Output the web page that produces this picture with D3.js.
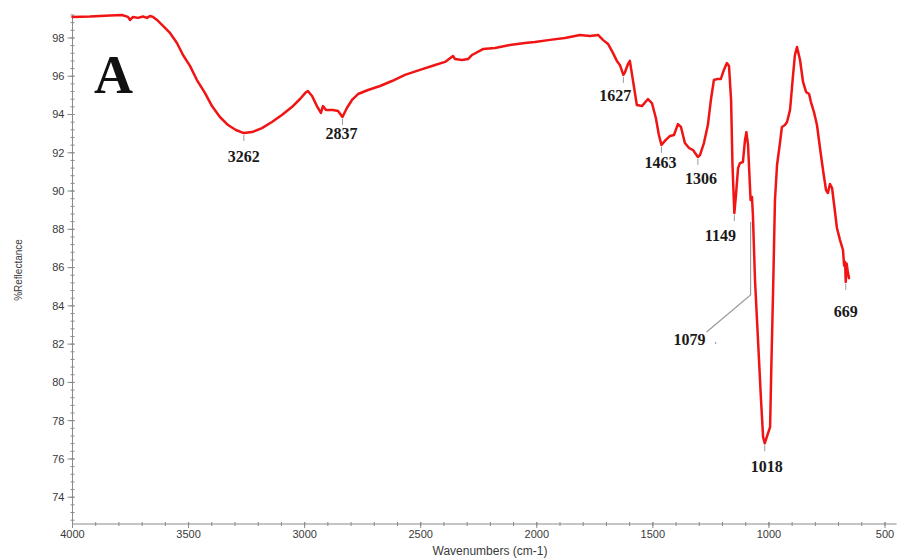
<!DOCTYPE html>
<html>
<head>
<meta charset="utf-8">
<script src="https://cdn.jsdelivr.net/npm/d3@7"></script>
<style>
  html, body { margin: 0; padding: 0; background: #ffffff; }
  svg { display: block; }
</style>
</head>
<body>
<svg id="chart" width="901" height="558"></svg>
<script>
// FTIR spectrum, wavenumber (cm-1) vs. %Reflectance
const wavenumbers = [
  4000, 3925, 3838, 3787, 3761, 3752, 3739, 3718, 3696, 3679,
  3666, 3653, 3636, 3610, 3580, 3550, 3524, 3494, 3464, 3429,
  3399, 3365, 3330, 3296, 3262, 3227, 3184, 3141, 3098, 3055,
  3020, 2998, 2986, 2968, 2947, 2930, 2921, 2908, 2878, 2856,
  2837, 2818, 2796, 2770, 2727, 2675, 2624, 2568, 2503, 2438,
  2395, 2361, 2352, 2322, 2296, 2279, 2232, 2180, 2116, 2051,
  2008, 1943, 1879, 1814, 1771, 1736, 1715, 1693, 1672, 1655,
  1642, 1627, 1620, 1607, 1599, 1586, 1569, 1547, 1521, 1504,
  1487, 1474, 1463, 1444, 1426, 1409, 1392, 1379, 1362, 1344,
  1327, 1306, 1297, 1280, 1263, 1250, 1237, 1220, 1207, 1194,
  1181, 1172, 1163, 1157, 1149, 1142, 1133, 1125, 1112, 1103,
  1097, 1090, 1084, 1079, 1073, 1069, 1060, 1047, 1034, 1025,
  1018, 1008, 995, 989, 982, 974, 965, 952, 944, 931,
  922, 909, 896, 888, 879, 866, 853, 840, 827, 819,
  806, 793, 780, 767, 754, 746, 737, 728, 719, 707,
  694, 681, 676, 672, 669, 665, 660, 655
];
const reflectance = [
  99.10, 99.12, 99.18, 99.20, 99.10, 98.94, 99.10, 99.05, 99.12, 99.05,
  99.15, 99.10, 98.94, 98.63, 98.26, 97.74, 97.11, 96.54, 95.80, 95.12,
  94.44, 93.87, 93.45, 93.19, 93.03, 93.08, 93.29, 93.61, 93.97, 94.39,
  94.81, 95.12, 95.23, 94.97, 94.44, 94.08, 94.44, 94.24, 94.24, 94.18,
  93.87, 94.34, 94.76, 95.07, 95.28, 95.49, 95.75, 96.07, 96.33, 96.59,
  96.75, 97.06, 96.90, 96.85, 96.90, 97.11, 97.42, 97.48, 97.63, 97.74,
  97.79, 97.90, 98.00, 98.16, 98.10, 98.16, 97.90, 97.69, 97.22, 96.80,
  96.59, 96.07, 96.22, 96.64, 96.80, 95.80, 94.50, 94.44, 94.81, 94.60,
  93.82, 92.93, 92.41, 92.67, 92.88, 92.93, 93.50, 93.35, 92.51, 92.25,
  92.14, 91.78, 91.88, 92.51, 93.45, 94.76, 95.80, 95.86, 95.86, 96.33,
  96.69, 96.54, 94.76, 91.36, 88.85, 89.79, 91.20, 91.46, 91.52, 92.67,
  93.08, 92.41, 90.84, 89.53, 89.69, 88.75, 85.35, 82.21, 79.07, 77.14,
  76.82, 77.19, 77.66, 81.16, 84.82, 89.53, 91.36, 92.56, 93.35, 93.45,
  93.61, 94.24, 96.07, 97.11, 97.53, 96.85, 95.70, 95.18, 95.07, 94.65,
  94.13, 93.45, 92.25, 91.10, 90.05, 89.90, 90.37, 90.16, 89.27, 88.07,
  87.45, 86.92, 86.10, 86.30, 85.25, 86.20, 85.75, 85.45
];
const peakLabels = [3262, 2837, 1627, 1463, 1306, 1149, 1079, 1018, 669];
const xTickValues = [4000, 3500, 3000, 2500, 2000, 1500, 1000, 500];
const yTickValues = [74, 76, 78, 80, 82, 84, 86, 88, 90, 92, 94, 96, 98];

// label placement relative to the peak point on the trace (px)
const labelLayout = {
  3262: { dx: 0,   dy: 29 },
  2837: { dx: -1,  dy: 22 },
  1627: { dx: -8,  dy: 26 },
  1463: { dx: -1,  dy: 23 },
  1306: { dx: 3,   dy: 27 },
  1149: { dx: -14, dy: 28 },
  1079: { dx: -61, dy: 145, leader: true },
  1018: { dx: 2,   dy: 29 },
  669:  { dx: 0,   dy: 35 }
};

const spectrum = wavenumbers.map((w, i) => ({ w, r: reflectance[i] }));

const svg = d3.select("#chart");
const x = d3.scaleLinear().domain([4000, 450]).range([72.5, 896.6]);
const y = d3.scaleLinear().domain([72.6, 99.2]).range([524, 15]);

const axisColor = "#8a8a8a";
const textColor = "#3a3a3a";

// ---- axes ----
const axes = svg.append("g");

// y axis line + ticks
axes.append("line")
  .attr("x1", x(4000)).attr("x2", x(4000))
  .attr("y1", y.range()[0]).attr("y2", y.range()[1])
  .attr("stroke", axisColor).attr("stroke-width", 1);

const yMinor = d3.range(72.8, 99.2, 0.4);
axes.selectAll(".yminor").data(yMinor).enter().append("line")
  .attr("x1", x(4000) - 2).attr("x2", x(4000) + 2)
  .attr("y1", d => y(d)).attr("y2", d => y(d))
  .attr("stroke", axisColor).attr("stroke-width", 1);

axes.selectAll(".ymajor").data(yTickValues).enter().append("line")
  .attr("x1", x(4000) - 5).attr("x2", x(4000) + 2)
  .attr("y1", d => y(d)).attr("y2", d => y(d))
  .attr("stroke", axisColor).attr("stroke-width", 1);

axes.selectAll(".ylabel").data(yTickValues).enter().append("text")
  .attr("x", x(4000) - 8).attr("y", d => y(d))
  .attr("dy", "0.35em")
  .attr("text-anchor", "end")
  .attr("font-family", "Liberation Sans, Arial, sans-serif")
  .attr("font-size", 11)
  .attr("fill", textColor)
  .text(d => d);

// x axis line + ticks
axes.append("line")
  .attr("x1", x.range()[0]).attr("x2", x.range()[1])
  .attr("y1", y(72.6)).attr("y2", y(72.6))
  .attr("stroke", axisColor).attr("stroke-width", 1);

const xMinor = d3.range(4000, 440, -100);
axes.selectAll(".xminor").data(xMinor).enter().append("line")
  .attr("x1", d => x(d)).attr("x2", d => x(d))
  .attr("y1", y(72.6) - 2).attr("y2", y(72.6) + 2)
  .attr("stroke", axisColor).attr("stroke-width", 1);

axes.selectAll(".xmajor").data(xTickValues).enter().append("line")
  .attr("x1", d => x(d)).attr("x2", d => x(d))
  .attr("y1", y(72.6) - 2).attr("y2", y(72.6) + 4)
  .attr("stroke", axisColor).attr("stroke-width", 1);

axes.selectAll(".xlabel").data(xTickValues).enter().append("text")
  .attr("x", d => x(d)).attr("y", 538)
  .attr("text-anchor", "middle")
  .attr("font-family", "Liberation Sans, Arial, sans-serif")
  .attr("font-size", 11)
  .attr("fill", textColor)
  .text(d => d);

// axis titles
svg.append("text")
  .attr("x", 490).attr("y", 555)
  .attr("text-anchor", "middle")
  .attr("font-family", "Liberation Sans, Arial, sans-serif")
  .attr("font-size", 12)
  .attr("fill", textColor)
  .text("Wavenumbers (cm-1)");

svg.append("text")
  .attr("transform", "translate(22,270) rotate(-90)")
  .attr("text-anchor", "middle")
  .attr("font-family", "Liberation Sans, Arial, sans-serif")
  .attr("font-size", 10)
  .attr("fill", textColor)
  .text("%Reflectance");

// panel letter
svg.append("text")
  .attr("x", 94).attr("y", 93)
  .attr("font-family", "Liberation Serif, Times New Roman, serif")
  .attr("font-weight", "bold")
  .attr("font-size", 54)
  .attr("fill", "#111")
  .text("A");

// ---- spectrum trace ----
const line = d3.line()
  .x(d => x(d.w))
  .y(d => y(d.r))
  .curve(d3.curveLinear);

svg.append("path")
  .datum(spectrum)
  .attr("d", line)
  .attr("fill", "none")
  .attr("stroke", "#f01414")
  .attr("stroke-width", 2.5)
  .attr("stroke-linejoin", "round")
  .attr("stroke-linecap", "round");

// ---- peak annotations ----
function valueAt(w) {
  const i = spectrum.findIndex(d => d.w <= w);
  if (i <= 0) return spectrum[Math.max(i, 0)].r;
  const a = spectrum[i - 1], b = spectrum[i];
  const t = (a.w - w) / (a.w - b.w);
  return a.r + t * (b.r - a.r);
}

const ann = svg.append("g");
peakLabels.forEach(w => {
  const px = x(w), py = y(valueAt(w));
  const lay = labelLayout[w];
  if (lay.leader) {
    ann.append("polyline")
      .attr("points", [[px, py + 22], [px, py + 95], [px - 44, py + 132]].map(p => p.join(",")).join(" "))
      .attr("fill", "none")
      .attr("stroke", "#9a9a9a")
      .attr("stroke-width", 1.2);
    ann.append("circle")
      .attr("cx", px - 35).attr("cy", py + 143).attr("r", 0.8)
      .attr("fill", "#777");
  } else {
    ann.append("line")
      .attr("x1", px).attr("x2", px)
      .attr("y1", py + 2).attr("y2", py + 8)
      .attr("stroke", "#9a9a9a").attr("stroke-width", 1);
  }
  ann.append("text")
    .attr("x", px + lay.dx).attr("y", py + lay.dy)
    .attr("text-anchor", "middle")
    .attr("font-family", "Liberation Serif, Times New Roman, serif")
    .attr("font-weight", "bold")
    .attr("font-size", 16)
    .attr("fill", "#1a1a1a")
    .text(w);
});
</script>
</body>
</html>
